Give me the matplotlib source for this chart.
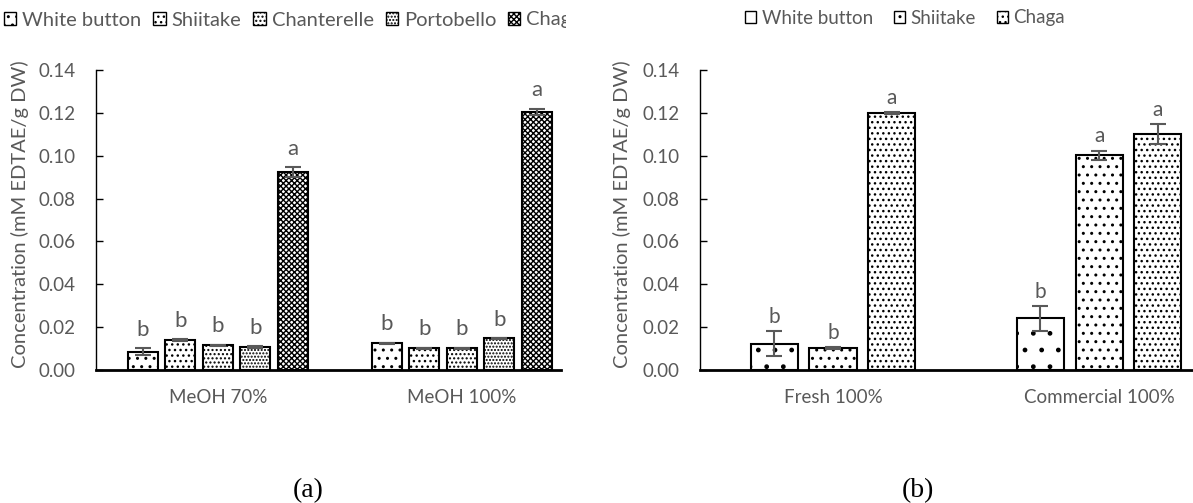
import matplotlib.pyplot as plt
import numpy as np
from matplotlib.patches import Patch
from matplotlib.transforms import Bbox

plt.rcParams['font.family'] = ['Lato', 'DejaVu Sans']
plt.rcParams['hatch.linewidth'] = 1.0

GREY = '#595959'

# panel (a)
groups_a = ['MeOH 70%', 'MeOH 100%']
species_a = ['White button', 'Shiitake', 'Chanterelle', 'Portobello', 'Chaga']
vals_a = [[0.0085, 0.0125], [0.0139, 0.0102], [0.0115, 0.0102],
          [0.0108, 0.0148], [0.0925, 0.1205]]
errs_a = [[0.0017, 0.0003], [0.0004, 0.0003], [0.0003, 0.0003],
          [0.0004, 0.0002], [0.0023, 0.0015]]
letters_a = [['b', 'b'], ['b', 'b'], ['b', 'b'], ['b', 'b'], ['a', 'a']]
hatch_a = ['..', '...', '....', '.....', 'xxxxxx']

# panel (b)
groups_b = ['Fresh 100%', 'Commercial 100%']
species_b = ['White button', 'Shiitake', 'Chaga']
vals_b = [[0.0122, 0.0242], [0.0103, 0.1002], [0.1200, 0.1102]]
errs_b = [[0.0058, 0.0058], [0.0004, 0.0022], [0.0003, 0.0045]]
letters_b = [['b', 'b'], ['b', 'a'], ['a', 'a']]
hatch_b = ['.', '..', '...']

yticks = [0.00, 0.02, 0.04, 0.06, 0.08, 0.10, 0.12, 0.14]


def draw_panel(ax, groups, species, vals, errs, letters, hatches, slot, width,
               xmax, letter_size, letter_off):
    x = np.arange(len(groups))
    n = len(species)
    for i in range(n):
        pos = x + (i - (n - 1) / 2) * slot
        ax.bar(pos, vals[i], width, color='white', edgecolor='black',
               linewidth=1.5, hatch=hatches[i], label=species[i], zorder=2)
        ax.errorbar(pos, vals[i], yerr=errs[i], fmt='none', ecolor=GREY,
                    elinewidth=1.5, capsize=6, capthick=1.5, zorder=3)
        for j in range(len(groups)):
            ax.annotate(letters[i][j], (pos[j], vals[i][j] + errs[i][j]),
                        xytext=(0, letter_off), textcoords='offset points',
                        ha='center', va='bottom', fontsize=letter_size,
                        color=GREY)
    ax.set_xlim(-0.5, xmax)
    ax.set_ylim(0, 0.14)
    ax.set_yticks(yticks)
    ax.set_yticklabels(['%.2f' % t for t in yticks])
    ax.set_xticks(x)
    ax.set_xticklabels(groups)
    ax.tick_params(axis='y', direction='in', length=5, width=1, colors='black',
                   labelcolor=GREY, labelsize=13.5, pad=15)
    ax.tick_params(axis='x', length=0, labelsize=13.5, labelcolor=GREY, pad=14)
    for s in ['top', 'right']:
        ax.spines[s].set_visible(False)
    ax.spines['left'].set_linewidth(1)
    ax.spines['bottom'].set_linewidth(2)


fig = plt.figure(figsize=(11.93, 5.03), dpi=100)
W, H = 1193, 503
ax1 = fig.add_axes([96 / W, 1 - 370 / H, (561 - 96) / W, 300 / H])
ax2 = fig.add_axes([700 / W, 1 - 370 / H, (1193 - 700) / W, 300 / H])

draw_panel(ax1, groups_a, species_a, vals_a, errs_a, letters_a, hatch_a,
           0.1537, 0.123, 1.406, 16, 6)
draw_panel(ax2, groups_b, species_b, vals_b, errs_b, letters_b, hatch_b,
           0.221, 0.177, 1.353, 15, 3)

ylab = 'Concentration (mM EDTAE/g DW)'
fig.text(20 / W, 1 - 214 / H, ylab, rotation=90, ha='center', va='center',
         fontsize=14.5, color=GREY)
fig.text(622 / W, 1 - 214 / H, ylab, rotation=90, ha='center', va='center',
         fontsize=14.5, color=GREY)

# left legend is cut off at the panel edge in the original
handles_a = [Patch(facecolor='white', edgecolor='black', hatch=h) for h in hatch_a]
leg1 = fig.legend(handles_a, species_a, loc='center left', ncol=5,
                  bbox_to_anchor=(4 / W, 1 - 20 / H), frameon=False,
                  fontsize=14.5, handlelength=0.6, handleheight=0.6,
                  handletextpad=0.3, columnspacing=0.6, labelcolor=GREY,
                  borderaxespad=0, borderpad=0)
clip = Bbox.from_extents(0, 0, 566, H)
for t in leg1.get_texts():
    t.set_clip_box(clip)
    t.set_clip_on(True)

handles_b = [Patch(facecolor='white', edgecolor='black', hatch=h) for h in hatch_b]
fig.legend(handles_b, species_b, loc='center left', ncol=3,
           bbox_to_anchor=(745 / W, 1 - 18 / H), frameon=False,
           fontsize=13.5, handlelength=0.6, handleheight=0.6,
           handletextpad=0.3, columnspacing=1.1, labelcolor=GREY,
           borderaxespad=0, borderpad=0)

fig.text(308 / W, 1 - 491 / H, '(a)', ha='center', va='center', fontsize=20,
         family='Liberation Serif')
fig.text(918 / W, 1 - 491 / H, '(b)', ha='center', va='center', fontsize=20,
         family='Liberation Serif')

fig.savefig('out.png', dpi=100)
